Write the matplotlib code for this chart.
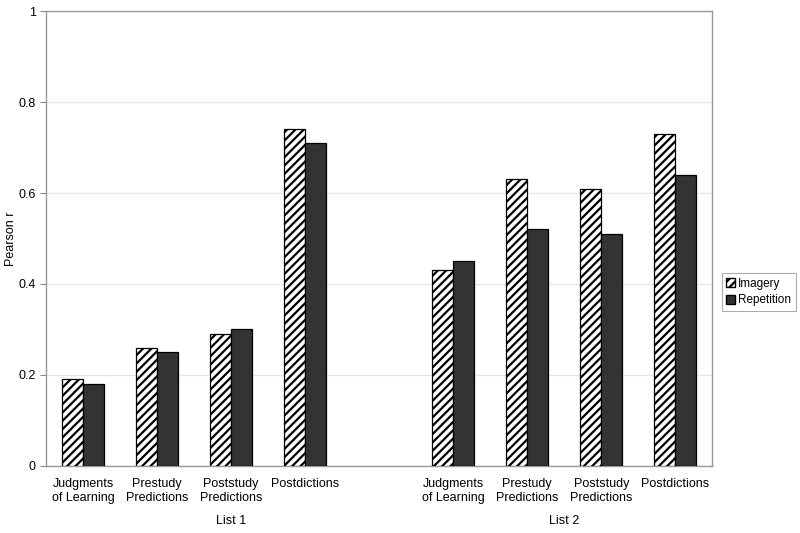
import numpy as np
import matplotlib
matplotlib.use("Agg")
import matplotlib.pyplot as plt
from matplotlib.patches import Patch

plt.rcParams['font.family'] = ['Liberation Sans', 'DejaVu Sans']
plt.rcParams['hatch.linewidth'] = 1.6

# Data
categories = ["Judgments\nof Learning", "Prestudy\nPredictions",
              "Poststudy\nPredictions", "Postdictions"]
groups = ["List 1", "List 2"]
imagery = [0.19, 0.26, 0.29, 0.74, 0.43, 0.63, 0.61, 0.73]
repetition = [0.18, 0.25, 0.30, 0.71, 0.45, 0.52, 0.51, 0.64]

# slot positions: 4 categories, one empty slot, 4 categories
pos = np.array([0, 1, 2, 3, 5, 6, 7, 8])
w = 0.285

fig = plt.figure(figsize=(8, 5.33), dpi=100)
ax = fig.add_axes([0.0575, 0.126, 0.833, 0.853])

ax.bar(pos - w / 2, imagery, w, color='white', edgecolor='black',
       hatch='////', linewidth=0.9, zorder=3)
ax.bar(pos + w / 2, repetition, w, color='#333333', edgecolor='black',
       linewidth=0.9, zorder=3)

ax.set_xlim(-0.5, 8.5)
ax.set_ylim(0, 1)
ax.set_yticks([0, 0.2, 0.4, 0.6, 0.8, 1.0])
ax.set_yticklabels(["0", "0.2", "0.4", "0.6", "0.8", "1"])
ax.yaxis.grid(True, color='#e6e6e6', linewidth=1, zorder=0)
ax.set_axisbelow(True)

ax.set_xticks(pos)
ax.set_xticklabels(categories * 2, fontsize=9, linespacing=1.15)
ax.tick_params(axis='x', length=0, pad=9)
ax.tick_params(axis='y', length=4, width=0.8, color='#888888', labelsize=9)

for sp in ax.spines.values():
    sp.set_color('#999999')
    sp.set_linewidth(1)

# group labels
trans = ax.get_xaxis_transform()
ax.text(2, -0.122, groups[0], transform=trans, ha='center', va='center', fontsize=9)
ax.text(6.5, -0.122, groups[1], transform=trans, ha='center', va='center', fontsize=9)

ax.set_ylabel("Pearson r", fontsize=9)
ax.yaxis.set_label_coords(-0.043, 0.5)

handles = [Patch(facecolor='white', edgecolor='black', hatch='////', label='Imagery'),
           Patch(facecolor='#333333', edgecolor='black', label='Repetition')]
leg = fig.legend(handles=handles, loc='center left', bbox_to_anchor=(0.902, 0.452),
                 fontsize=8.5, frameon=True, fancybox=False, handlelength=0.75,
                 handleheight=0.8, handletextpad=0.25, borderpad=0.4,
                 labelspacing=0.35, borderaxespad=0)
leg.get_frame().set_edgecolor('#999999')
leg.get_frame().set_linewidth(0.8)

fig.savefig("out.png", dpi=100)
